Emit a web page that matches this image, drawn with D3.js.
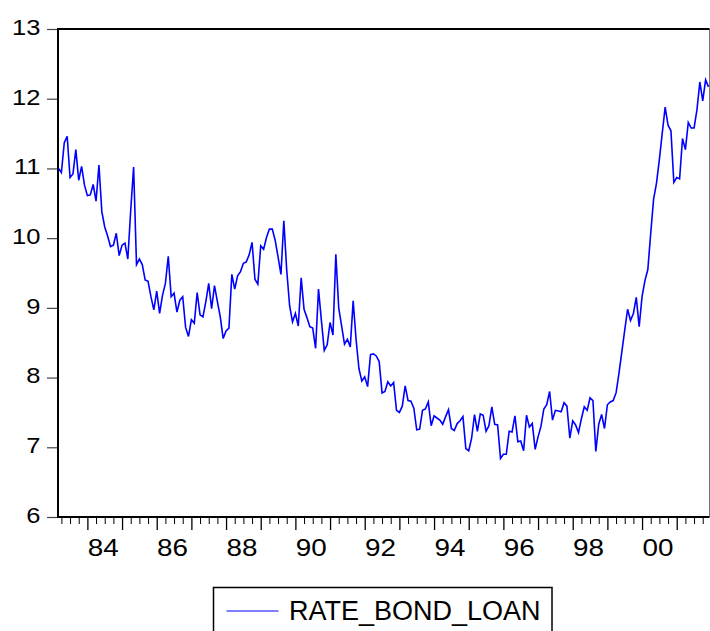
<!DOCTYPE html>
<html>
<head>
<meta charset="utf-8">
<script src="https://cdn.jsdelivr.net/npm/d3@7"></script>
<style>
  html, body { margin: 0; padding: 0; background: #fff; }
  svg { display: block; }
  text { font-family: "Liberation Sans", Arial, sans-serif; fill: #000; }
</style>
</head>
<body>
<svg id="chart" width="710" height="631"></svg>
<script>
// Monthly series, first observation 1983M03
const startYear = 1983;
const startMonth = 3;
const seriesName = "RATE_BOND_LOAN";

const rates = [
  11.00, 10.94, 11.37, 11.46, 10.87, 10.92, 11.27, 10.83, 11.03, 10.76,
  10.61, 10.62, 10.77, 10.53, 11.05, 10.38, 10.16, 10.03, 9.88, 9.90,
  10.07, 9.75, 9.90, 9.93, 9.70, 10.40, 11.02, 9.62, 9.70, 9.62,
  9.40, 9.38, 9.16, 8.97, 9.24, 8.92, 9.18, 9.35, 9.74, 9.16,
  9.21, 8.94, 9.11, 9.16, 8.72, 8.59, 8.83, 8.78, 9.22, 8.90,
  8.87, 9.09, 9.35, 8.99, 9.32, 9.09, 8.87,
  8.56, 8.67, 8.71, 9.48, 9.27, 9.46, 9.52, 9.64, 9.66, 9.76,
  9.94, 9.41, 9.34, 9.89, 9.84, 10.01, 10.13, 10.13, 9.97, 9.73,
  9.48, 10.25, 9.54, 9.03, 8.80, 8.92, 8.74, 9.43, 8.98, 8.86,
  8.73, 8.71, 8.42, 9.27, 8.82, 8.39, 8.47, 8.79, 8.61, 9.77,
  9.00, 8.74, 8.48, 8.55, 8.44, 9.10, 8.55, 8.13, 7.95, 8.01,
  7.87, 8.33, 8.34, 8.31, 8.23,
  7.78, 7.80, 7.94, 7.88, 7.93, 7.53, 7.50, 7.59, 7.88, 7.67,
  7.66, 7.56, 7.25, 7.26, 7.53, 7.55, 7.65, 7.31, 7.45, 7.42,
  7.39, 7.33, 7.44, 7.54, 7.27, 7.24, 7.34, 7.38, 7.44, 6.98,
  6.95, 7.13, 7.47, 7.23, 7.48, 7.46, 7.23, 7.31, 7.58, 7.33,
  7.32, 6.84, 6.90, 6.90, 7.23, 7.22, 7.45, 7.08, 7.09, 6.95,
  7.46, 7.29, 7.34, 6.97, 7.15, 7.30, 7.55,
  7.61, 7.80, 7.39, 7.53, 7.52, 7.51, 7.64, 7.59, 7.13, 7.38,
  7.32, 7.21, 7.41, 7.58, 7.53, 7.71, 7.67, 6.94, 7.33, 7.47,
  7.27, 7.61, 7.65, 7.67, 7.78, 8.06, 8.37, 8.68, 8.98, 8.82,
  8.92, 9.15, 8.73, 9.16, 9.39, 9.55, 10.07, 10.56, 10.79, 11.13,
  11.51, 11.88, 11.62, 11.54, 10.80, 10.87, 10.85, 11.43, 11.27, 11.66,
  11.58, 11.58, 11.84, 12.24, 11.97, 12.27, 12.17
];

const yTicks = [6, 7, 8, 9, 10, 11, 12, 13];
const labelYears = [1984, 1986, 1988, 1990, 1992, 1994, 1996, 1998, 2000];

// Fractional-year time stamp for each observation
const data = rates.map((v, i) => ({
  t: startYear + (startMonth - 1 + i) / 12,
  v: v
}));

const svg = d3.select("#chart");
const frame = { left: 58, right: 709.5, top: 29, bottom: 517 };
const stretch = 1.16; // tick labels are drawn slightly wide

const x = d3.scaleLinear()
  .domain([data[0].t, data[data.length - 1].t])
  .range([58.5, 708.5]);

const y = d3.scaleLinear()
  .domain([6, 13])
  .range([frame.bottom, frame.top]);

// Quarterly minor ticks and yearly major ticks along the time axis
const firstYear = Math.ceil(data[0].t);
const lastYear = Math.floor(data[data.length - 1].t);
const quarters = [];
for (let yr = startYear; yr <= lastYear; yr++) {
  for (let q = 1; q < 4; q++) {
    const t = yr + q / 4;
    if (t >= data[0].t && t <= data[data.length - 1].t + 1 / 12) quarters.push(t);
  }
}

const minorAxis = d3.axisBottom(x)
  .tickValues(quarters)
  .tickSize(6)
  .tickFormat("");
const majorAxis = d3.axisBottom(x)
  .tickValues(d3.range(firstYear, lastYear + 1))
  .tickSize(12)
  .tickFormat("");

svg.append("g")
  .attr("transform", `translate(0,${frame.bottom + 1})`)
  .call(minorAxis)
  .call(g => g.select(".domain").remove())
  .call(g => g.selectAll("line").attr("stroke", "#000").attr("stroke-width", 1));

svg.append("g")
  .attr("transform", `translate(0,${frame.bottom + 1})`)
  .call(majorAxis)
  .call(g => g.select(".domain").remove())
  .call(g => g.selectAll("line").attr("stroke", "#000").attr("stroke-width", 1.3));

// Two-digit year labels centred in each labelled year
svg.append("g")
  .selectAll("text")
  .data(labelYears)
  .join("text")
  .attr("transform", d => `translate(${x(d + 0.5) - 1.5},555.5) scale(${stretch},1)`)
  .attr("text-anchor", "middle")
  .attr("font-size", 24)
  .text(d => String(d % 100).padStart(2, "0"));

// Value axis ticks
const yAxis = d3.axisLeft(y)
  .tickValues(yTicks)
  .tickSize(11)
  .tickFormat("");

svg.append("g")
  .attr("transform", `translate(${frame.left},0)`)
  .call(yAxis)
  .call(g => g.select(".domain").remove())
  .call(g => g.selectAll("line").attr("stroke", "#444").attr("stroke-width", 1.2));

// Value axis labels
svg.append("g")
  .selectAll("text")
  .data(yTicks)
  .join("text")
  .attr("transform", d => `translate(40.5,${y(d) + 5.8}) scale(${stretch},1)`)
  .attr("text-anchor", "end")
  .attr("font-size", 22)
  .text(d3.format("d"));

// Plot frame
svg.append("line")
  .attr("x1", frame.right).attr("x2", frame.right)
  .attr("y1", frame.top).attr("y2", frame.bottom)
  .attr("stroke", "#777").attr("stroke-width", 1);
svg.append("path")
  .attr("d", `M${frame.right},${frame.top}H${frame.left}V${frame.bottom}H${frame.right}`)
  .attr("fill", "none")
  .attr("stroke", "#000")
  .attr("stroke-width", 2);

// Series line
const line = d3.line()
  .x(d => x(d.t))
  .y(d => y(d.v));

svg.append("path")
  .datum(data)
  .attr("d", line)
  .attr("fill", "none")
  .attr("stroke", "#0000ff")
  .attr("stroke-width", 1.6)
  .attr("stroke-linejoin", "miter");

// Legend
const legend = svg.append("g");
legend.append("rect")
  .attr("x", 213.5).attr("y", 587.5)
  .attr("width", 338.5).attr("height", 60)
  .attr("fill", "#fff")
  .attr("stroke", "#000")
  .attr("stroke-width", 1.5);
legend.append("line")
  .attr("x1", 226.5).attr("x2", 278.5)
  .attr("y1", 611).attr("y2", 611)
  .attr("stroke", "#0000ff")
  .attr("stroke-width", 1);
legend.append("text")
  .attr("x", 289)
  .attr("y", 619.5)
  .attr("font-size", 27)
  .text(seriesName);
</script>
</body>
</html>
